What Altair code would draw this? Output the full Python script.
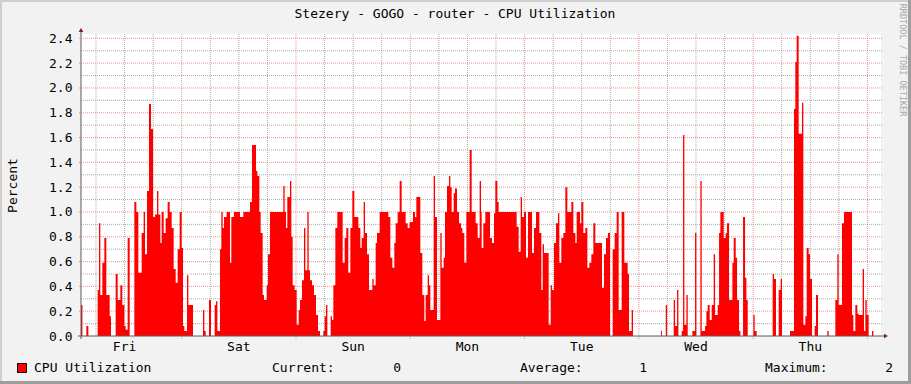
import altair as alt
import pandas as pd

# ---------------- data ----------------
hours = [0.0, 0.3, 1.12, 1.54, 3.5, 3.78, 4.06, 4.48, 4.9, 5.32, 6.02, 6.3, 7.28, 7.7, 8.26, 8.68,
         9.1, 9.38, 9.8, 10.22, 11.2, 11.62, 12.04, 12.74, 13.16, 13.44, 13.86, 14.28, 14.7, 15.12,
         15.54, 15.96, 16.24, 16.66, 16.94, 17.36, 17.78, 18.2, 18.62, 19.04, 19.46, 19.88, 20.3,
         20.72, 21.14, 21.42, 21.7, 22.26, 22.54, 23.52, 25.62, 25.9, 26.18, 26.88, 27.3, 28.07,
         28.35, 28.63, 29.19, 29.47, 29.75, 30.03, 30.59, 31.29, 31.57, 32.13, 33.39, 34.09, 35.49,
         35.91, 36.75, 37.03, 37.45, 37.73, 38.15, 38.43, 38.99, 39.27, 39.69, 42.49, 42.77, 43.05,
         43.33, 43.89, 44.17, 44.45, 44.87, 45.29, 45.71, 45.99, 46.41, 46.83, 47.11, 47.53, 47.81,
         48.09, 48.51, 48.93, 49.35, 49.77, 50.19, 50.89, 51.17, 51.45, 51.73, 52.43, 52.71, 52.99,
         53.41, 53.83, 54.95, 55.37, 55.72, 56.14, 56.56, 56.98, 57.4, 58.24, 58.66, 58.94, 59.36,
         59.64, 60.06, 60.48, 61.18, 61.46, 61.88, 62.16, 62.72, 64.54, 64.96, 65.38, 65.8, 66.08,
         66.5, 66.92, 67.34, 68.18, 68.6, 69.02, 69.72, 70.14, 70.42, 71.26, 71.68, 72.1, 72.38,
         72.8, 73.08, 73.36, 74.06, 74.34, 74.76, 75.46, 75.74, 76.16, 76.44, 76.86, 77.28, 77.56,
         77.84, 78.26, 78.54, 78.96, 79.38, 79.8, 80.08, 80.5, 80.92, 81.62, 82.04, 82.88, 83.3,
         83.72, 84.0, 84.14, 84.49, 84.91, 85.89, 86.31, 86.73, 87.01, 87.43, 87.71, 91.49, 91.91,
         92.33, 92.61, 93.03, 93.45, 93.87, 94.71, 95.13, 95.55, 96.25, 96.67, 96.95, 97.23, 98.21,
         98.63, 98.91, 99.33, 99.75, 100.17, 100.45, 100.87, 101.29, 101.71, 102.13, 102.97, 103.39,
         103.81, 104.09, 104.79, 105.07, 105.49, 105.91, 106.33, 106.75, 107.17, 107.59, 108.01,
         109.41, 109.83, 110.25, 110.67, 111.09, 111.65, 112.07, 112.49, 112.91, 113.54, 114.1,
         114.8, 115.08, 115.64, 115.92, 121.8, 122.0, 122.8, 123.07, 124.47, 124.75, 125.17, 125.45,
         126.15, 126.43, 126.71, 127.13, 127.41, 128.39, 128.95, 129.23, 130.07, 130.35, 131.05,
         131.33, 131.61, 132.03, 132.45, 132.87, 133.15, 133.71, 133.99, 134.27, 134.97, 135.39,
         135.67, 136.09, 136.79, 137.07, 137.49, 137.77, 138.19, 138.47, 139.03, 139.45, 139.73,
         140.01, 141.19, 141.47, 141.89, 145.25, 145.53, 145.95, 146.51, 146.93, 147.21, 148.89,
         149.73, 150.01, 150.29, 150.71, 151.41, 151.69, 152.11, 152.39, 152.81, 153.09, 153.51,
         154.07, 154.35, 154.77, 156.73, 157.01, 158.41, 158.83, 159.11, 159.81, 160.23, 161.91,
         162.19, 162.61, 163.03, 163.31, 164.15, 164.43, 164.71, 164.99, 165.41, 166.11, 166.39,
         168.0]
values = [0.25, 0, 0.08, 0, 0.37, 0.91, 0.33, 0.59, 0.79, 0.33, 0.16, 0, 0.5, 0.29, 0.41, 0.25,
          0.08, 0.05, 0.79, 0, 1.08, 1.0, 0.51, 0.83, 1.0, 0.66, 1.17, 1.87, 1.67, 0.96,
          0.98, 1.17, 0.98, 0.75, 1.0, 0.83, 0.95, 1.08, 1.0, 0.87, 0.54, 0.43, 0.7,
          1.0, 0.71, 0.08, 0.04, 0.49, 0.25, 0, 0.21, 0.04, 0, 0.29, 0, 0.25,
          0.28, 0.04, 0.7, 1.0, 0.87, 0.96, 1.0, 0.59, 0.96, 1.0, 0.96, 1.0, 1.08,
          1.54, 1.33, 1.29, 1.0, 0.83, 0.33, 0.29, 0.41, 0.66, 1.0, 1.21, 1.0, 0.87,
          1.12, 1.25, 0.8, 0.41, 0.37, 0.09, 0.21, 0.29, 0.45, 0.87, 0.53, 1.0, 0.53,
          0.45, 0.41, 0.33, 0.17, 0.04, 0, 0.04, 0.16, 0.25, 0, 0.16, 0.13, 0.41,
          0.87, 1.0, 0.59, 0.79, 0.87, 0.51, 0.87, 1.17, 0.96, 0.87, 0.71, 0.79, 1.08,
          0.83, 0.66, 0.37, 0.46, 0.41, 0.75, 0.83, 1.0, 0.96, 0.63, 0.55, 0.75, 0.91,
          1.0, 1.25, 1.0, 0.91, 0.87, 0.92, 1.0, 0.96, 1.12, 0.67, 0.33, 0.12, 0.33,
          0.49, 0.41, 0.21, 1.29, 0.96, 0.13, 0.83, 0.55, 0.63, 1.0, 1.21, 1.29, 1.2,
          1.0, 1.15, 1.19, 1.0, 0.91, 0.87, 0.83, 0.59, 1.0, 1.5, 1.0, 0.91, 0.79,
          1.25, 1.0, 0.71, 0.91, 1.0, 0.79, 0.75, 0.99, 1.25, 1.08, 1.0, 0.88, 0.68,
          1.12, 0.96, 1.0, 0.63, 1.0, 0.67, 0.87, 1.0, 0.83, 0.37, 0.74, 0.67, 0.09,
          0.41, 0.37, 0.75, 0.91, 0.99, 0.59, 0.79, 0.83, 1.2, 1.0, 1.08, 0.83,
          0.75, 1.0, 0.91, 1.08, 0.83, 0.87, 0.55, 0.59, 0.66, 0.91, 0.75,
          0.39, 0.66, 0.79, 0.83, 0, 0.7, 0.83, 1.0, 0.21, 1.0, 0.59,
          0.5, 0.04, 0.21, 0, 0.04, 0, 0.25, 0, 0.29, 0.08, 0.37, 0,
          0.04, 1.62, 0.09, 0.33, 0, 0.04, 0.83, 0, 1.25, 0.04, 0.08,
          0.2, 0.25, 0.13, 0.25, 0.66, 0.17, 0.25, 0.83, 1.0, 0.79, 0.83,
          0.91, 0.29, 0.59, 0.79, 0.63, 0.29, 0.04, 0, 0.96, 0.47, 0.29,
          0, 0.17, 0.04, 0, 0.5, 0.46, 0, 0.37, 0.46, 0, 0.04,
          1.83, 2.21, 2.42, 1.63, 1.88, 0.09, 0.16, 0.71, 0.66, 0.46, 0,
          0.08, 0.33, 0, 0.04, 0, 0.29, 0.66, 0.25, 0.91, 1.0, 0.17,
          0.04, 0.25, 0.18, 0.17, 0.54, 0.04, 0.29, 0.17, 0, 0.04, 0,
          0]

day_names = ["Fri", "Sat", "Sun", "Mon", "Tue", "Wed", "Thu"]
first_noon = 9.15          # hour (from graph start) of Friday noon
first_midnight = 21.15     # hour of the Fri/Sat day boundary
y_ticks = [0.0, 0.2, 0.4, 0.6, 0.8, 1.0, 1.2, 1.4, 1.6, 1.8, 2.0, 2.2, 2.4]
y_minor = [0.1, 0.3, 0.5, 0.7, 0.9, 1.1, 1.3, 1.5, 1.7, 1.9, 2.1, 2.3]
title_text = "Stezery - GOGO - router - CPU Utilization"
series_name = "CPU Utilization"
stat_labels = ["Current:", "Average:", "Maximum:"]
stat_values = ["0", "1", "2"]
y_title = "Percent"
credit = "RRDTOOL / TOBI OETIKER"

X_MAX = 168.0
Y_MAX = 2.435
W, H = 800, 302
FONT = "DejaVu Sans Mono"

# ---------------- derived tables ----------------
df = pd.DataFrame({"h": hours, "v": values})
x_major = [first_midnight + 24 * k for k in range(-1, 7) if 0 <= first_midnight + 24 * k <= X_MAX]
x_minor = [first_midnight + 6 * k for k in range(-4, 28)
           if 0 <= first_midnight + 6 * k <= X_MAX and k % 4 != 0]
days = pd.DataFrame({"h": [first_noon + 24 * i for i in range(len(day_names))], "d": day_names})

xs = alt.Scale(domain=[0, X_MAX], nice=False, zero=False)
ys = alt.Scale(domain=[0, Y_MAX], nice=False)

y_axis = alt.Axis(values=y_ticks, format=".1f", labelFont=FONT, labelFontSize=13,
                  labelColor="#000000", grid=False, domain=False, ticks=False,
                  labelOverlap=False, labelPadding=9, title=y_title, titleFont=FONT,
                  titleFontSize=13, titleFontWeight="normal", titleColor="#000000",
                  titleX=-69, titleY=H / 2, titleAngle=270, titleAlign="center",
                  titleBaseline="middle")

one = pd.DataFrame({"a": [0]})

minor_col = "rgba(143,143,143,0.75)"
major_col = "rgba(222,79,79,0.6)"

hgrid_minor = alt.Chart(pd.DataFrame({"y": y_minor})).mark_rule(
    color=minor_col, strokeDash=[1, 1], strokeWidth=1).encode(
    y=alt.Y("y:Q", scale=ys, axis=y_axis), x=alt.value(0), x2=alt.value(W + 2))
hgrid_major = alt.Chart(pd.DataFrame({"y": y_ticks[1:]})).mark_rule(
    color=major_col, strokeDash=[1, 1], strokeWidth=1).encode(
    y=alt.Y("y:Q", scale=ys, axis=y_axis), x=alt.value(-2), x2=alt.value(W + 2))
vgrid_minor = alt.Chart(pd.DataFrame({"x": x_minor})).mark_rule(
    color=minor_col, strokeDash=[1, 1], strokeWidth=1).encode(
    x=alt.X("x:Q", scale=xs, axis=None), y=alt.value(0), y2=alt.value(H))
vgrid_major = alt.Chart(pd.DataFrame({"x": x_major})).mark_rule(
    color=major_col, strokeDash=[1, 1], strokeWidth=1).encode(
    x=alt.X("x:Q", scale=xs, axis=None), y=alt.value(0), y2=alt.value(H + 3))

area = alt.Chart(df).mark_area(color="#FF0000", interpolate="step-after").encode(
    x=alt.X("h:Q", scale=xs, axis=None),
    y=alt.Y("v:Q", scale=ys, axis=y_axis),
)

axis_col = "#5a5a5a"
y_axis_line = alt.Chart(one).mark_rule(color=axis_col, strokeWidth=1).encode(
    x=alt.value(0), y=alt.value(-5), y2=alt.value(H + 3))
x_axis_line = alt.Chart(one).mark_rule(color=axis_col, strokeWidth=1).encode(
    y=alt.value(H), x=alt.value(-3), x2=alt.value(W + 3))
arrow_up = alt.Chart(one).mark_point(shape="triangle-up", filled=True, size=22,
                                     color="#801F1F", opacity=1).encode(
    x=alt.value(0), y=alt.value(-4))
arrow_right = alt.Chart(one).mark_point(shape="triangle-right", filled=True, size=22,
                                        color="#801F1F", opacity=1).encode(
    x=alt.value(W + 5), y=alt.value(H))

day_text = alt.Chart(days).mark_text(font=FONT, fontSize=13, color="#000000",
                                     baseline="middle", align="center").encode(
    x=alt.X("h:Q", scale=xs, axis=None), y=alt.value(H + 11), text="d:N")


def label(txt, x, y, align="left", size=13, color="#000000", angle=0):
    return alt.Chart(one).mark_text(font=FONT, fontSize=size, color=color, align=align,
                                    baseline="middle", angle=angle).encode(
        x=alt.value(x), y=alt.value(y), text=alt.value(txt))


title = label(title_text, 374, -20, align="center")
credit_text = label(credit, 822, 26, align="center", size=8.5, color="#A8A8A8", angle=90)

legend_box = alt.Chart(one).mark_rect(color="#FF0000", stroke="#000000", strokeWidth=1).encode(
    x=alt.value(-63.5), x2=alt.value(-54.5), y=alt.value(329.5), y2=alt.value(338.5))
legend_name = label(series_name, -47, 334)

stat_layers = []
for lab, val, lx, vx in zip(stat_labels, stat_values, [191, 439, 684], [320, 566, 812]):
    stat_layers.append(label(lab, lx, 334))
    stat_layers.append(label(val, vx, 334, align="right"))

frame_l = alt.Chart(one).mark_rule(color="#CFCFCF", strokeWidth=2).encode(
    x=alt.value(-80), y=alt.value(-34), y2=alt.value(350))
frame_t = alt.Chart(one).mark_rule(color="#CFCFCF", strokeWidth=2).encode(
    y=alt.value(-33), x=alt.value(-81), x2=alt.value(830))
frame_r = alt.Chart(one).mark_rule(color="#9E9E9E", strokeWidth=3).encode(
    x=alt.value(828.5), y=alt.value(-34), y2=alt.value(350))
frame_b = alt.Chart(one).mark_rule(color="#9E9E9E", strokeWidth=3).encode(
    y=alt.value(348.5), x=alt.value(-81), x2=alt.value(830))

chart = alt.layer(
    hgrid_minor, hgrid_major, vgrid_minor, vgrid_major, area,
    y_axis_line, x_axis_line, arrow_up, arrow_right, day_text, title, credit_text,
    legend_box, legend_name, *stat_layers, frame_l, frame_t, frame_r, frame_b
).properties(
    width=W, height=H,
    autosize=alt.AutoSizeParams(type="none"),
    padding={"left": 81, "top": 34, "right": 30, "bottom": 48},
    background="#F2F2F2",
).configure_view(fill="#FFFFFF", strokeWidth=0)

chart.save("out.html", embed_options={"renderer": "svg", "actions": False})
